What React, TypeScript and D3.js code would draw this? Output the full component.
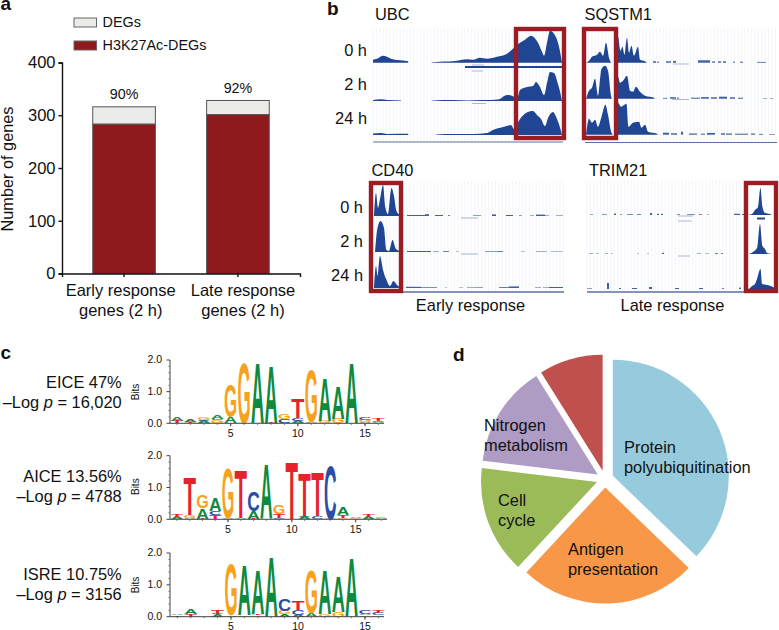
import React, { useEffect, useRef } from 'react';
import * as d3 from 'd3';

// panel a
const groups = ['Early', 'Late'];
const groupLabels = [['Early response', 'genes (2 h)'], ['Late response', 'genes (2 h)']];
const h3k27 = [283, 301];
const degs = [316, 328];
const percents = ['90%', '92%'];
const countTicks = [0, 100, 200, 300, 400];

// panel b, [position, signal]
const ubc0 = [[0,3],[4,4],[10,7],[14,6],[18,4],[22,3],[27,2.5],[32,2],[35,1.5],[35.5,0],[58,0],[60,.5],[67,1],[76,1.2],[84,2],[94,3.5],[100,3],[107,5],[114,4],[124,6],[134,9],[140,14],[147,20],[152,23],[158,27],[165,20],[169,11],[171,7],[174,20],[177,32],[181,29],[185,20],[188,6],[189,0]];
const ubc2 = [[0,1],[8,1.8],[14,1],[28,.4],[28.5,0],[58,0],[60,.6],[80,1],[95,.6],[110,.9],[125,1.5],[134,6],[140,4.8],[144,2],[147,11],[154,14],[160,15],[163,19],[167,14],[171,6],[174,18],[177,29],[181,28],[185,17],[188,5],[189,0]];
const ubc24 = [[0,1.5],[8,2],[14,1],[35,1.2],[35.5,0],[62,0],[64,.6],[80,1],[100,1],[114,2],[120,5],[130,8],[134,9],[138,10],[141,6],[147,16],[153,22],[160,24],[164,20],[168,16],[172,9],[175,17],[180,23],[184,16],[188,4],[189,0]];
const sq0 = [[1,0],[4,2],[7,6],[12,8],[15,11],[18,7],[21,20],[24,5],[26.5,0],[31,0],[33,26],[35.5,12],[37.5,16],[39.5,8],[42,25],[44,10],[46.5,17],[49,7],[53,16],[55,3],[60,1.5],[62,0]];
const sq2 = [[1,0],[4,8],[7,11],[10,20],[13,3],[16.5,30],[20,33],[23,28],[26,3],[27,0],[31,0],[33,22],[35,16],[38,18],[42,23],[45,8],[48,7],[51,12],[55,7],[60,3],[69,1],[70,0]];
const sq24 = [[1,0],[4,16],[7,12],[10,15],[13,8],[16.5,18],[20.5,30],[23,20],[26.5,2],[28,0],[31,0],[33,32],[36,28],[41.5,31],[43.5,8],[48,12],[54,13],[56.5,7],[60,10],[63,3],[72,1],[73,0]];
const cd0 = [[1,0],[3,23],[5,8],[7,17],[10,31],[12.5,8],[15,2],[18.5,28],[21,20],[23.5,5],[27,1],[33,0]];
const cd2 = [[2,0],[4.5,24],[7.5,31],[11,24],[13.5,2],[16,1],[19.5,12],[23,3],[27,1],[33,0]];
const cd24 = [[1,0],[3,22],[4.5,12],[7,32],[10,18],[13.5,8],[17,2],[20.5,7],[24,3],[27,1],[33,0]];
const tr0 = [[160,0],[165,1],[168,5],[171,8],[173.5,27],[175.5,8],[178,2],[183,1],[185,0]];
const tr2 = [[162,0],[166,2],[170,6],[173,30],[175.5,8],[178,5],[180,1],[186,0]];
const tr24 = [[162,0],[165,3],[168,5],[170,10],[173.5,20],[175,5],[180,4],[186,2],[188,0]];

// small reads along the tracks, [start, end, signal]
const sq0Reads = [[68,71,1.5],[72,74,1],[81,86,1.4],[88,91,1.8],[113,125,2.4],[127,130,1.2],[133,136,1.4],[138,141,1.4],[148,150,1],[155,158,1],[172,181,.8]];
const sq2Reads = [[78,82,.8],[85,91,1.5],[92,94,1],[106,115,1],[116,124,1.6],[126,132,1.4],[134,142,2],[145,150,1.4],[153,158,1],[178,182,.5],[185,188,.5]];
const sq24Reads = [[78,84,2],[86,92,1.4],[96,98,3],[104,112,1.2],[116,120,1],[122,130,1.8],[136,140,1.4],[141,147,1.2],[150,163,1],[166,170,1.2],[174,178,.8],[184,190,.6]];
const cd0Reads = [[34,52,1],[52,56,1.8],[62,70,1],[75,77,.8],[100,108,.6],[119,123,1.6],[133,140,1],[146,149,.6],[157,161,.5],[163,172,1.4],[172,176,.5],[183,190,.5]];
const cd2Reads = [[34,58,1],[60,66,.5],[70,76,.8],[83,86,.4],[112,124,.6],[124,130,.8],[148,152,.4],[163,174,.5],[178,190,.4]];
const cd24Reads = [[33,48,1.2],[48,64,.7],[72,74,.4],[86,90,.4],[94,102,.5],[102,110,.6],[126,136,.8],[136,146,1.6],[162,168,.5],[170,176,.5],[176,190,1]];
const tr0Reads = [[3,6,.6],[15,20,.6],[27,29,1.4],[33,35,.6],[40,46,.7],[50,54,.8],[63,65,2],[70,72,1.2],[74,76,1.2],[90,93,.7],[100,108,.7],[112,115,.7],[120,122,.5],[147,153,1.2],[155,158,1]];
const tr2Reads = [[2,6,.5],[9,12,.4],[18,21,.5],[24,26,.4],[50,52,.4],[60,62,.4],[75,77,1.2],[110,114,.5],[118,122,.4],[128,131,.8],[134,136,.8]];
const tr24Reads = [[0,5,.6],[20,22,6],[32,34,1],[45,50,1],[62,65,2],[88,92,1],[112,116,1],[135,137,.8],[152,154,1.4]];

// gene annotations under the tracks, [start, end, row y, weight]
const ubcGenes = [[92,189,67,1.8],[99,111,65,.7],[99,110,71,.7],[99,113,103.5,.7]];
const sqGenes = [[88,104,64,.7],[87,104,99.5,.7]];
const cdGenes = [[88,105,218,.8],[88,105,254,.8]];
const trGenes = [[91,106,216,.7],[91,105,221,.7],[91,103,256,.7],[170,178,218.5,2]];

const sitePanels = [
  { gene: 'UBC', tracks: [ubc0, ubc2, ubc24], reads: [[], [], []], genes: ubcGenes, start: 373, baselines: [62.7, 101, 135], rule: 142, ruleW: 1, box: [516, 564, 29, 138], geneX: 375, geneY: 20, ruleEnd: 190 },
  { gene: 'SQSTM1', tracks: [sq0, sq2, sq24], reads: [sq0Reads, sq2Reads, sq24Reads], genes: sqGenes, start: 585, baselines: [62.7, 98.7, 134.7], rule: 142.5, ruleW: 1, box: [584, 616, 29, 138], geneX: 584.5, geneY: 20, ruleEnd: 192 },
  { gene: 'CD40', tracks: [cd0, cd2, cd24], reads: [cd0Reads, cd2Reads, cd24Reads], genes: cdGenes, start: 373, baselines: [216, 252, 288], rule: 292, ruleW: 1.6, box: [371, 401, 183, 291], geneX: 371.5, geneY: 176, ruleEnd: 191 },
  { gene: 'TRIM21', tracks: [tr0, tr2, tr24], reads: [tr0Reads, tr2Reads, tr24Reads], genes: trGenes, start: 587, baselines: [215, 254, 289], rule: 292, ruleW: 1.6, box: [746, 776, 183, 291], geneX: 589, geneY: 176, ruleEnd: 157 },
];
const timeLabels = ['0 h', '2 h', '24 h'];

// panel c, bottom to top at each position
const eice = [
  [['T',.06],['A',.12]], [['T',.03],['A',.1]], [['A',.07],['C',.04],['G',.09]], [['G',.09],['C',.04],['A',.14]],
  [['A',.2],['G',1.08]], [['G',1.98]], [['A',1.95]], [['T',.02],['A',1.88]],
  [['A',.02],['C',.13],['G',.15]], [['A',.07],['C',.1],['T',.62]], [['A',.04],['G',1.7]], [['G',.08],['A',1.42]],
  [['G',.15],['A',1.08]], [['A',1.98]], [['A',.05],['G',.06],['C',.1]], [['A',.04],['C',.04],['T',.07]],
];
const aice = [
  [['A',.06],['T',.1]], [['A',.05],['G',.07],['T',1.25]], [['T',.02],['A',.33],['G',.43]], [['T',.12],['C',.13],['A',.43]],
  [['A',.05],['G',1.6]], [['A',.05],['T',1.55]], [['T',.02],['A',.25],['C',.62]], [['A',1.78]],
  [['C',.05],['T',.12],['G',.28]], [['T',1.88]], [['A',.06],['C',.03],['T',1.38]], [['C',.1],['T',1.45]],
  [['T',.02],['C',1.76]], [['G',.05],['T',.1],['A',.25]], [['G',.03],['A',.03]], [['A',.06],['T',.08]], [['A',.04],['G',.03]],
];
const isre = [
  [['T',.04],['A',.05]], [['T',.08],['A',.15]], [], [['A',.08],['C',.02],['T',.12]],
  [['A',.05],['G',1.66]], [['G',.05],['A',1.6]], [['G',.05],['T',.05],['A',1.45]], [['A',1.95]],
  [['A',.07],['G',.11],['C',.38]], [['A',.06],['C',.16],['T',.31]], [['A',.12],['G',1.4]], [['G',.08],['A',1.45]],
  [['G',.16],['A',1.13]], [['A',1.9]], [['G',.05],['A',.05],['C',.14]], [['A',.05],['C',.08],['T',.1]],
];
const logos = [
  { name: 'EICE 47%', p: '16,020', stacks: eice, y0: 423.3, y2: 360, x5: 230.7, x15: 365, end: 384, ly: 388.3, bits: 392 },
  { name: 'AICE 13.56%', p: '4788', stacks: aice, y0: 519.3, y2: 455.7, x5: 228, x15: 355.7, end: 387, ly: 481.7, bits: 486.7 },
  { name: 'ISRE 10.75%', p: '3156', stacks: isre, y0: 616.7, y2: 553, x5: 231, x15: 365, end: 384, ly: 580, bits: 585 },
];
const bitTicks = [0, 1, 2];
const bitMinor = [.2, .4, .6, .8, 1.2, 1.4, 1.6, 1.8];
const posTicks = [5, 10, 15];
const baseColors: Record<string, string> = { A: '#0e8a3e', C: '#2b4da6', G: '#f6a21c', T: '#e6222b' };
const baseAdvance: Record<string, number> = { A: .722, C: .722, G: .778, T: .611 };

// panel d
const pieNames = ['Protein polyubiquitination', 'Antigen presentation', 'Cell cycle', 'Nitrogen metabolism', 'Other'];
const pieValues = [37.2, 24.7, 15, 14.2, 8.9];
const pieColors = ['#96cadd', '#f79747', '#9bbb59', '#ae9cc5', '#c0504d'];
const pieLabels = [
  { lines: ['Protein', 'polyubiquitination'], x: 624, y: 453 },
  { lines: ['Antigen', 'presentation'], x: 568, y: 555 },
  { lines: ['Cell', 'cycle'], x: 498, y: 505.5 },
  { lines: ['Nitrogen', 'metabolism'], x: 484, y: 430.5 },
];

const FONT = '"Liberation Sans", Arial, sans-serif';
const BOX_RED = '#9c1c24';
const TRACK_BLUE = '#1f4593';

const App = () => {
  const svgRef = useRef<SVGSVGElement>(null);

  useEffect(() => {
    const svg = d3.select(svgRef.current);
    svg.selectAll('*').remove();
    svg.style('font-family', FONT).style('fill', '#111');

    const label = (x: number, y: number, s: string, size = 16.4, anchor = 'start') =>
      svg.append('text').attr('x', x).attr('y', y).attr('text-anchor', anchor).style('font-size', `${size}px`).text(s);

    // panel letters
    [['a', 0.5, 10], ['b', 327, 15], ['c', 0.5, 359], ['d', 453, 360.5]].forEach(([s, x, y]) => {
      label(x as number, y as number, s as string, 19).style('font-weight', 'bold');
    });

    // a: stacked bars
    const x = d3.scaleBand().domain(groups).range([62, 300]).paddingInner(0.45).paddingOuter(0.27);
    const y = d3.scaleLinear().domain([0, 400]).range([273.5, 62.5]);

    const gA = svg.append('g');
    gA.selectAll('rect.total').data(groups).enter().append('rect')
      .attr('class', 'total')
      .attr('x', d => x(d)!).attr('width', x.bandwidth())
      .attr('y', (_, i) => y(degs[i])).attr('height', (_, i) => y(h3k27[i]) - y(degs[i]))
      .attr('fill', '#ebebe9').attr('stroke', '#555').attr('stroke-width', 1);
    gA.selectAll('rect.h3').data(groups).enter().append('rect')
      .attr('class', 'h3')
      .attr('x', d => x(d)!).attr('width', x.bandwidth())
      .attr('y', (_, i) => y(h3k27[i])).attr('height', (_, i) => y(0) - y(h3k27[i]))
      .attr('fill', '#8e1a1e').attr('stroke', '#555').attr('stroke-width', 1);

    const yAxis = gA.append('g').attr('transform', 'translate(62,0)')
      .call(d3.axisLeft(y).tickValues(countTicks).tickSize(3.5).tickPadding(3));
    yAxis.selectAll('text').style('font-size', '16.5px').style('font-family', FONT).attr('fill', '#111');
    yAxis.selectAll('line,path').attr('stroke', '#111').attr('stroke-width', 1.4);

    const xAxis = gA.append('g').attr('transform', 'translate(0,273.5)')
      .call(d3.axisBottom(x).tickSize(3.5).tickFormat(() => ''));
    xAxis.selectAll('line,path').attr('stroke', '#111').attr('stroke-width', 1.4);

    groups.forEach((g, i) => {
      const cx = x(g)! + x.bandwidth() / 2;
      label(cx, y(degs[i]) - 7.5, percents[i], 14.3, 'middle');
      const lx = i === 0 ? 120.7 : 243;
      groupLabels[i].forEach((s, j) => label(lx, 296 + j * 20, s, 16.5, 'middle'));
    });
    svg.append('text').attr('transform', 'translate(13,169) rotate(-90)').attr('text-anchor', 'middle')
      .style('font-size', '16.3px').text('Number of genes');

    // a: legend
    [['DEGs', '#ebebe9', 18], ['H3K27Ac-DEGs', '#8e1a1e', 41]].forEach(([s, c, ly]) => {
      svg.append('rect').attr('x', 74).attr('y', ly as number).attr('width', 22.5).attr('height', 9)
        .attr('fill', c as string).attr('stroke', '#666').attr('stroke-width', 1);
      label(102.5, (ly as number) + 9.3, s as string, 14.4);
    });

    // b: browser tracks
    sitePanels.forEach(p => {
      const gB = svg.append('g');
      const tx = d3.scaleLinear().domain([0, 190]).range([p.start, p.start + 190]);
      const top = p.baselines[0] - 35;

      gB.selectAll('line.grid').data(d3.range(0, p.ruleEnd, 3.4)).enter().append('line')
        .attr('x1', d => tx(d)).attr('x2', d => tx(d)).attr('y1', top).attr('y2', p.rule)
        .attr('stroke', '#f3f5fa').attr('stroke-width', 1);

      p.tracks.forEach((t, i) => {
        const ty = d3.scaleLinear().domain([0, 35]).range([p.baselines[i], p.baselines[i] - 35]);
        const area = d3.area<number[]>().x(d => tx(d[0])).y0(ty(0)).y1(d => ty(d[1])).curve(d3.curveMonotoneX);
        gB.append('path').attr('d', area(t as number[][])).attr('fill', TRACK_BLUE);
        gB.selectAll(`rect.r${i}`).data(p.reads[i] as number[][]).enter().append('rect')
          .attr('class', `r${i}`)
          .attr('x', d => tx(d[0])).attr('width', d => tx(d[1]) - tx(d[0]))
          .attr('y', d => ty(d[2])).attr('height', d => ty(0) - ty(d[2]))
          .attr('fill', TRACK_BLUE).attr('opacity', 0.85);
      });

      p.genes.forEach(a => {
        gB.append('line').attr('x1', tx(a[0])).attr('x2', tx(a[1])).attr('y1', a[2]).attr('y2', a[2])
          .attr('stroke', a[3] > 1 ? TRACK_BLUE : '#8c9ccb').attr('stroke-width', a[3]);
      });

      gB.append('line').attr('x1', tx(0)).attr('x2', tx(p.ruleEnd)).attr('y1', p.rule).attr('y2', p.rule)
        .attr('stroke', '#5a70a8').attr('stroke-width', p.ruleW);
      const [bx0, bx1, by0, by1] = p.box;
      gB.append('rect').attr('x', bx0).attr('y', by0).attr('width', bx1 - bx0).attr('height', by1 - by0)
        .attr('fill', 'none').attr('stroke', BOX_RED).attr('stroke-width', 4.4);
      label(p.geneX, p.geneY, p.gene);
    });

    timeLabels.forEach((s, i) => {
      label(367, [56, 90, 124][i], s, 16.4, 'end');
      label(363, [213, 247, 281][i], s, 16.4, 'end');
    });
    label(470.5, 311, 'Early response', 16.4, 'middle');
    label(672.5, 311, 'Late response', 16.4, 'middle');

    // c: sequence logos
    logos.forEach(l => {
      const gC = svg.append('g');
      const ly = d3.scaleLinear().domain([0, 2]).range([l.y0, l.y2]);
      const lx = d3.scaleLinear().domain([5, 15]).range([l.x5, l.x15]);
      const colW = lx(2) - lx(1);

      l.stacks.forEach((stack, i) => {
        let acc = 0;
        (stack as [string, number][]).forEach(([base, bits]) => {
          const sx = colW * 0.98 / (baseAdvance[base] * 100);
          const sy = (ly(acc) - ly(acc + bits)) / 72.9;
          const left = lx(i + 1) - colW * 0.49;
          gC.append('text')
            .attr('transform', `translate(${left},${ly(acc)}) scale(${sx},${sy})`)
            .style('font-size', '100px').style('font-weight', 'bold')
            .style('fill', baseColors[base]).text(base);
          acc += bits;
        });
      });

      gC.append('line').attr('x1', 170).attr('x2', 170).attr('y1', ly(2)).attr('y2', ly(0)).attr('stroke', '#444').attr('stroke-width', 1);
      gC.append('line').attr('x1', 170).attr('x2', l.end).attr('y1', ly(0)).attr('y2', ly(0)).attr('stroke', '#444').attr('stroke-width', 1);
      bitTicks.forEach(t => {
        gC.append('line').attr('x1', 166.5).attr('x2', 170).attr('y1', ly(t)).attr('y2', ly(t)).attr('stroke', '#444');
        label(162, ly(t) + 3.4, t.toFixed(1), 10.5, 'end');
      });
      bitMinor.forEach(t => {
        gC.append('line').attr('x1', 168.5).attr('x2', 170).attr('y1', ly(t)).attr('y2', ly(t)).attr('stroke', '#666');
      });
      l.stacks.forEach((_, i) => {
        gC.append('line').attr('x1', lx(i + 1)).attr('x2', lx(i + 1)).attr('y1', ly(0)).attr('y2', ly(0) + 1.5).attr('stroke', '#666');
      });
      posTicks.forEach(t => {
        gC.append('line').attr('x1', lx(t)).attr('x2', lx(t)).attr('y1', ly(0)).attr('y2', ly(0) + 3).attr('stroke', '#444');
        label(lx(t), ly(0) + 13.7, String(t), 10.5, 'middle');
      });
      gC.append('text').attr('transform', `translate(139,${l.bits}) rotate(-90)`)
        .attr('text-anchor', 'middle').style('font-size', '10px').text('Bits');

      label(121.7, l.ly, l.name, 16.4, 'end');
      const t = label(121.7, l.ly + 20, '', 16.4, 'end');
      t.append('tspan').text('–Log ');
      t.append('tspan').style('font-style', 'italic').text('p');
      t.append('tspan').text(` = ${l.p}`);
    });

    // d: pie, every slice pulled out a little
    const pie = d3.pie<number>().sort(null).value(d => d);
    const arc = d3.arc<d3.PieArcDatum<number>>().innerRadius(0).outerRadius(116);
    const gD = svg.append('g').attr('transform', 'translate(605,479)');
    gD.selectAll('path').data(pie(pieValues)).enter().append('path')
      .attr('d', arc)
      .attr('fill', (_, i) => pieColors[i])
      .attr('transform', d => {
        const mid = (d.startAngle + d.endAngle) / 2;
        return `translate(${Math.sin(mid) * 8.5},${-Math.cos(mid) * 8.5})`;
      })
      .append('title').text((_, i) => pieNames[i]);
    pieLabels.forEach(l => {
      l.lines.forEach((s, j) => label(l.x, l.y + j * 20, s));
    });
  }, []);

  return <svg ref={svgRef} width={779} height={630} style={{ position: 'absolute', left: 0, top: 0 }} />;
};

export default App;
